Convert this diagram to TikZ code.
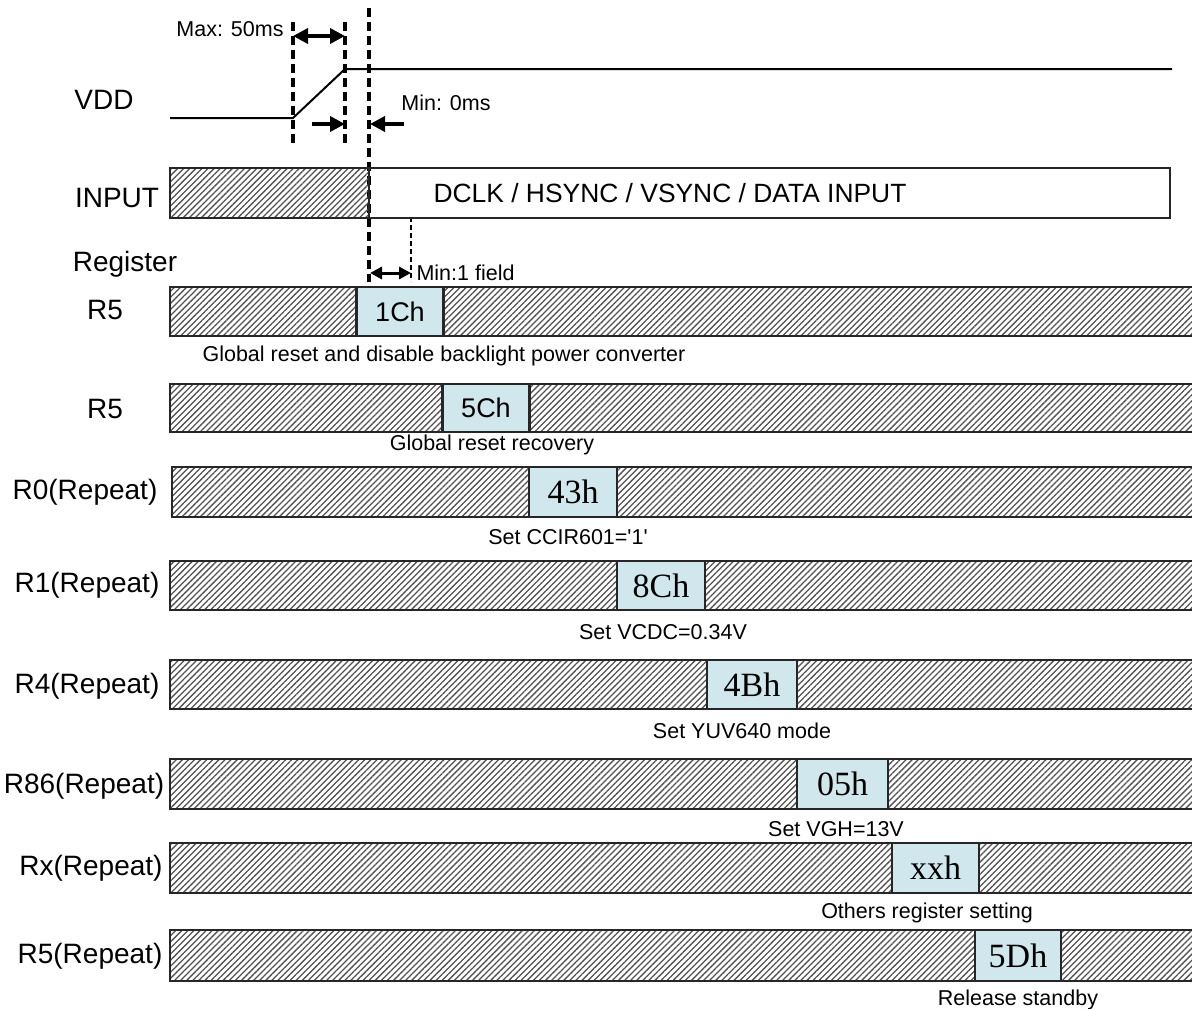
\documentclass[tikz,border=0pt]{standalone}
\usepackage{fontspec}
\usepackage{xcolor}
\usepackage{tikz}
\usetikzlibrary{arrows.meta,patterns.meta}
\newfontfamily\arialfont{Liberation Sans}
\newfontfamily\timesfont{Liberation Serif}
\definecolor{boxcyan}{RGB}{208,232,237}

\begin{document}
\begin{tikzpicture}[x=1pt,y=-1pt,font=\arialfont,
  hatch/.style={pattern={Lines[angle=45,distance=4.3pt,line width=1.3pt]},pattern color=black!68},
  edge/.style={draw=black!85,line width=2.3pt},
  lbl/.style={font=\arialfont\fontsize{28}{30}\selectfont},
  note/.style={font=\arialfont\fontsize{21.5}{24}\selectfont},
  valbox/.style={edge,fill=boxcyan,minimum width=87pt,minimum height=49pt,inner sep=0pt,font=\arialfont\fontsize{27}{30}\selectfont},
  hexbox/.style={valbox,font=\timesfont\fontsize{34}{36}\selectfont},
  guide/.style={line width=3.2pt,dash pattern=on 9pt off 5pt},
  dimarrow/.style={line width=3.6pt,{Triangle[length=15pt,width=15pt]}-{Triangle[length=15pt,width=15pt]}},
  onearrow/.style={line width=3.6pt,-{Triangle[length=15pt,width=15pt]}}]
\useasboundingbox (0,0) rectangle (1192,1009);

% VDD
\node[lbl] (vddlbl) at (104,100) {VDD};
\draw[line width=2pt] (170,118) -- (293,118) -- (345,69) -- (1172,69);
\coordinate (rampA) at (293,22);  \coordinate (rampAb) at (293,147);
\coordinate (rampB) at (345,22);  \coordinate (rampBb) at (345,147);
\coordinate (inTop) at (369,8);   \coordinate (inBot) at (369,282);
\coordinate (fldTop) at (411,217); \coordinate (fldBot) at (411,281);
\draw[guide] (rampA) -- (rampAb);
\draw[guide] (rampB) -- (rampBb);
\draw[guide] (inTop) -- (inBot);
\draw[line width=2.6pt,dash pattern=on 5pt off 3pt] (fldTop) -- (fldBot);
\node[note] (maxlbl) at (230,29) {Max: 50ms};
\draw[dimarrow] (293,36) -- (345,36);
\coordinate (minA) at (312,124); \coordinate (minB) at (404,124);
\draw[onearrow] (minA) -- (345,124);
\draw[onearrow] (minB) -- (370,124);
\node[note] (minlbl) at (446,103) {Min: 0ms};

% INPUT
\node[lbl] (inlbl) at (117,198) {INPUT};
\path[hatch] (170,168) rectangle (369,218);
\draw[edge] (170,168) rectangle (1170,218);
\draw[edge] (369,168) -- (369,218);
\node[font=\arialfont\fontsize{26.4}{28}\selectfont] (inputtxt) at (670,193) {DCLK / HSYNC / VSYNC / DATA INPUT};

% registers
\node[lbl] (reglbl) at (125,264) {Register};
\draw[line width=3pt,{Triangle[length=12pt,width=12pt]}-{Triangle[length=12pt,width=12pt]}] (370,273) -- (411,273);
\node[note,anchor=west] (fldlbl) at (413,273) {Min:1 field};

\node[lbl] (r5a) at (105,310) {R5};
\path[hatch] (170,287) rectangle (1194,336);
\draw[edge] (1194,287) -| (170,336) -- (1194,336);
\node[valbox] (v1c) at (400,311.5) {1Ch};
\node[note] (c1c) at (444,356) {Global reset and disable backlight power converter};

\node[lbl] (r5b) at (105,409) {R5};
\path[hatch] (170,384) rectangle (1194,432);
\draw[edge] (1194,384) -| (170,432) -- (1194,432);
\node[valbox,minimum height=48pt] (v5c) at (486,408) {5Ch};
\node[note] (c5c) at (492,445) {Global reset recovery};

\node[lbl] (r0) at (85,492) {R0(Repeat)};
\path[hatch] (172,467) rectangle (1194,517);
\draw[edge] (1194,467) -| (172,517) -- (1194,517);
\node[hexbox,minimum width=88pt,minimum height=50pt] (v43) at (573,492) {43h};
\node[note] (c43) at (568,537) {Set CCIR601='1'};

\node[lbl] (r1) at (87,585) {R1(Repeat)};
\path[hatch] (170,561) rectangle (1194,610);
\draw[edge] (1194,561) -| (170,610) -- (1194,610);
\node[hexbox,minimum width=88pt] (v8c) at (661,585.5) {8Ch};
\node[note] (c8c) at (663,632) {Set VCDC=0.34V};

\node[lbl] (r4) at (87,686) {R4(Repeat)};
\path[hatch] (170,660) rectangle (1194,709);
\draw[edge] (1194,660) -| (170,709) -- (1194,709);
\node[hexbox,minimum width=90pt] (v4b) at (752,684.5) {4Bh};
\node[note] (c4b) at (742,731) {Set YUV640 mode};

\node[lbl] (r86) at (84,786) {R86(Repeat)};
\path[hatch] (170,759) rectangle (1194,809);
\draw[edge] (1194,759) -| (170,809) -- (1194,809);
\node[hexbox,minimum width=91pt,minimum height=50pt] (v05) at (842.5,784) {05h};
\node[note] (c05) at (836,829) {Set VGH=13V};

\node[lbl] (rx) at (91,868) {Rx(Repeat)};
\path[hatch] (170,843) rectangle (1194,893);
\draw[edge] (1194,843) -| (170,893) -- (1194,893);
\node[hexbox,minimum height=50pt] (vxx) at (935.5,868) {xxh};
\node[note] (cxx) at (927,913) {Others register setting};

\node[lbl] (r5r) at (90,956) {R5(Repeat)};
\path[hatch] (170,930) rectangle (1194,981);
\draw[edge] (1194,930) -| (170,981) -- (1194,981);
\node[hexbox,minimum width=86pt,minimum height=51pt] (v5d) at (1018,955.5) {5Dh};
\node[note] (c5d) at (1018,1000) {Release standby};
\end{tikzpicture}
\end{document}
